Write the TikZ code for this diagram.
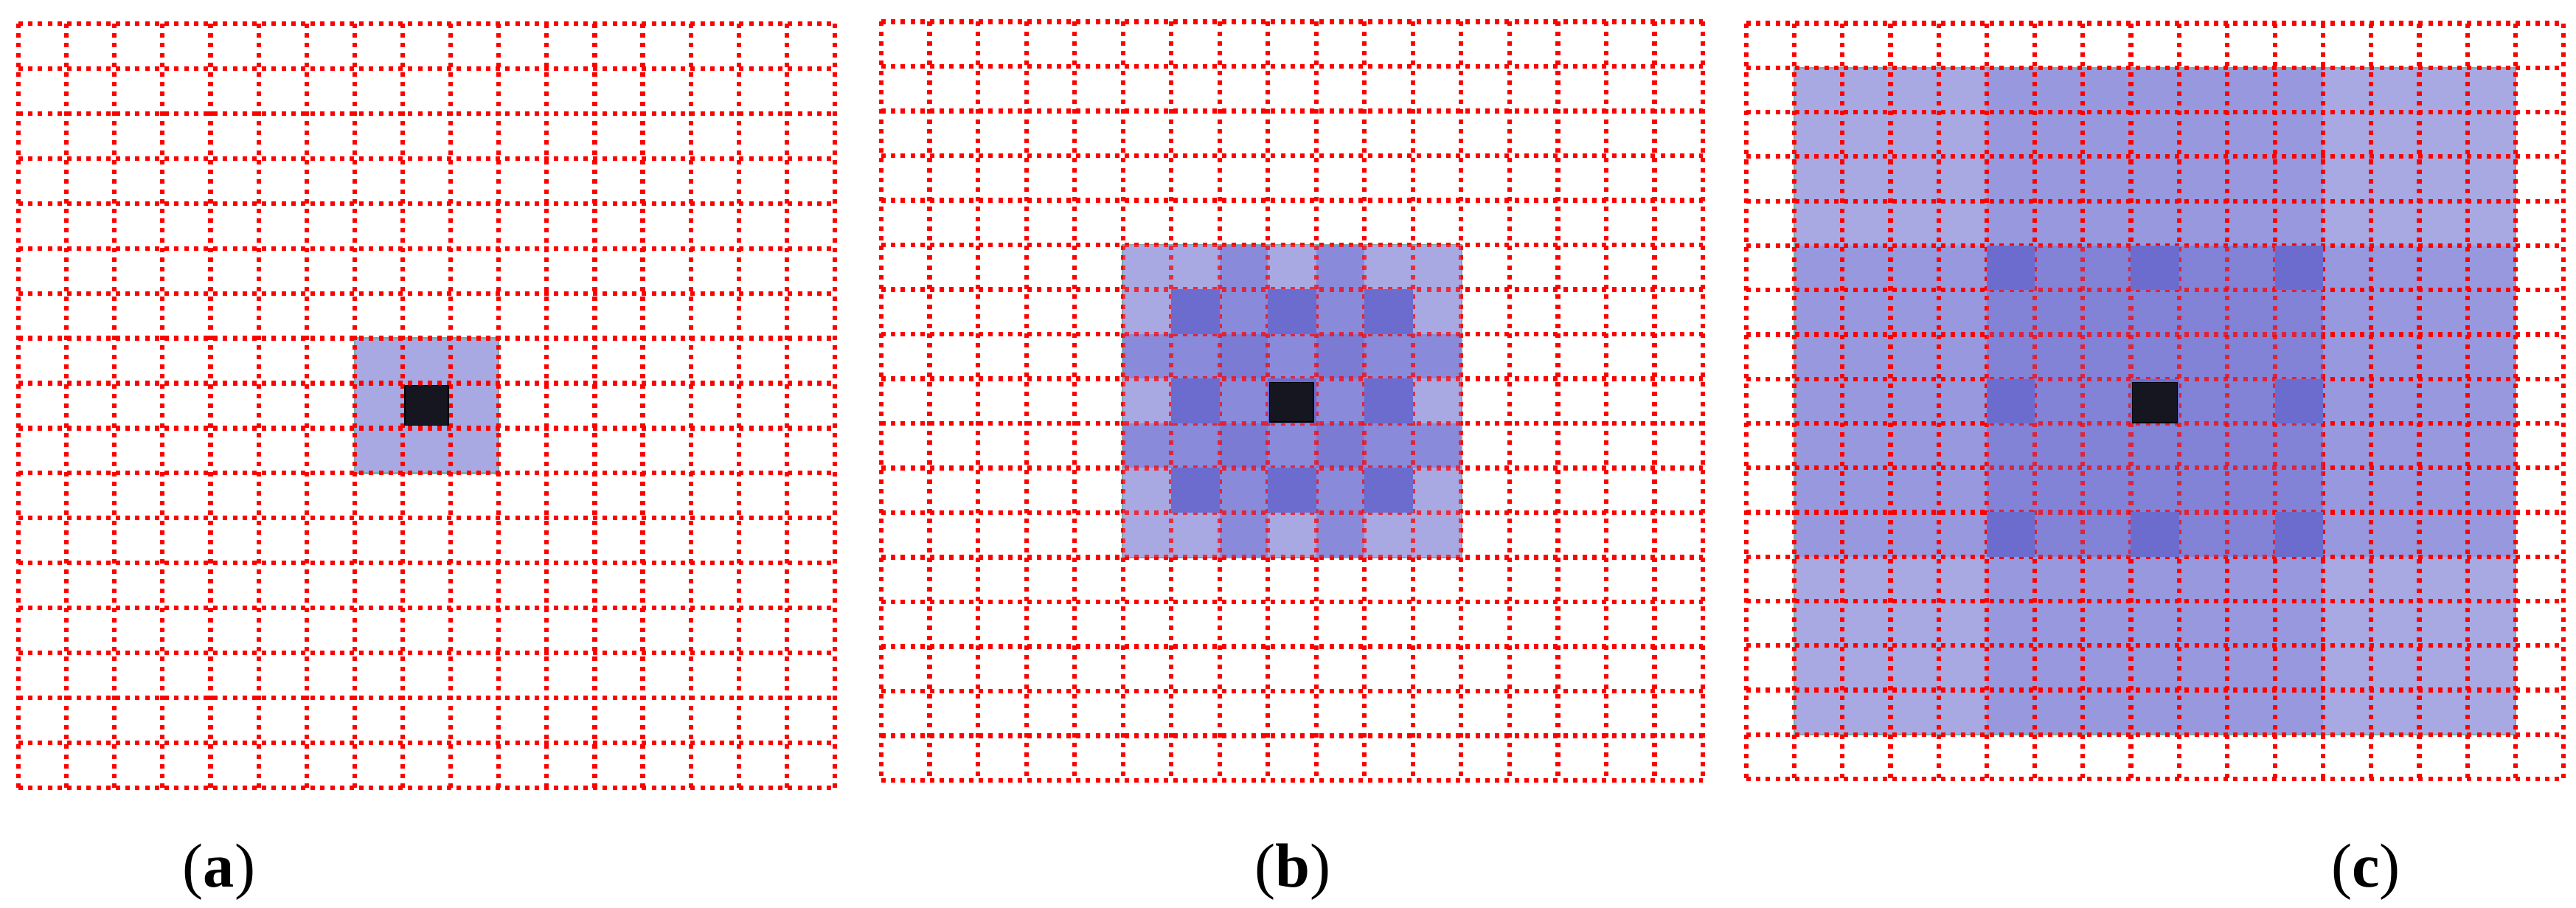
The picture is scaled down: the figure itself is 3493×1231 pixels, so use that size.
\documentclass[tikz,border=0pt]{standalone}
\usepackage{fontspec}
\setmainfont{Liberation Serif}
\definecolor{gridred}{RGB}{255,0,0}
\definecolor{cL}{RGB}{168,168,226}
\definecolor{cM}{RGB}{138,138,218}
\definecolor{cMD}{RGB}{123,123,212}
\definecolor{cD}{RGB}{108,108,206}
\definecolor{cA}{RGB}{152,152,222}
\definecolor{cB}{RGB}{130,130,214}
\definecolor{cK}{RGB}{22,22,32}
\definecolor{cEdge}{RGB}{125,170,170}
\tikzset{
  gridline/.style={draw=gridred, line width=0.62mm, dash pattern=on 0.6mm off 0.72mm},
  blockedge/.style={draw=cEdge, line width=0.25mm},
  blackcell/.style={fill=cK, draw=black, line width=0.15mm},
  caption/.style={font=\fontsize{24}{28}\selectfont, anchor=base, inner sep=0pt}
}
% #1 x0, #2 y0, #3 cell width, #4 cell height, #5 opacity
\newcommand{\redgrid}[5]{%
  \foreach \i in {0,...,17}{%
    \draw[gridline, draw opacity=#5] ({#1+\i*#3},#2) -- ({#1+\i*#3},{#2+17*#4});
    \draw[gridline, draw opacity=#5] (#1,{#2+\i*#4}) -- ({#1+17*#3},{#2+\i*#4});
  }}
% cell rectangle: #1 x0, #2 y0, #3 cw, #4 ch, #5 col, #6 row
\newcommand{\cellrect}[6]{({#1+(#5)*#3},{#2+(#6)*#4}) rectangle ({#1+(#5+1)*#3},{#2+(#6+1)*#4})}
% block rectangle from col #5,row #6 to col #7,row #8 (inclusive)
\newcommand{\blockrect}[8]{({#1+(#5)*#3},{#2+(#6)*#4}) rectangle ({#1+(#7+1)*#3},{#2+(#8+1)*#4})}

\begin{document}
\begin{tikzpicture}[x=0.01cm,y=-0.01cm]
\useasboundingbox (0,0) rectangle (3493,1231);
\fill[white] (0,0) rectangle (3493,1231);

% ---------------- (a) ----------------
\def\xa{25}\def\ya{32}\def\wa{65.12}\def\ha{60.94}
\fill[cL] \blockrect{\xa}{\ya}{\wa}{\ha}{7}{7}{9}{9};
\draw[blockedge] \blockrect{\xa}{\ya}{\wa}{\ha}{7}{7}{9}{9};
\redgrid{\xa}{\ya}{\wa}{\ha}{1}
\fill[blackcell] ({\xa+8*\wa+3},{\ya+8*\ha+3}) rectangle ({\xa+9*\wa-3},{\ya+9*\ha-4});
\node[caption] (labA) at (297,1202) {(\textbf{a})};

% ---------------- (b) ----------------
\def\xb{1195}\def\yb{29.5}\def\wb{65.53}\def\hb{60.5}
\newcommand{\fillbcells}{%
  \foreach \dx in {-3,...,3}{%
    \foreach \dy in {-3,...,3}{%
      \pgfmathtruncatemacro\ax{abs(\dx)}%
      \pgfmathtruncatemacro\ay{abs(\dy)}%
      \def\cc{cL}%
      \ifnum\ax=1 \def\cc{cM}\fi
      \ifnum\ay=1 \def\cc{cM}\fi
      \ifnum\ax=1 \ifnum\ay=1 \def\cc{cMD}\fi\fi
      \fill[\cc] \cellrect{\xb}{\yb}{\wb}{\hb}{8+\dx}{8+\dy};
    }}}
\fillbcells
\draw[blockedge] \blockrect{\xb}{\yb}{\wb}{\hb}{5}{5}{11}{11};
\redgrid{\xb}{\yb}{\wb}{\hb}{1}
\fillbcells
\begin{scope}
  \clip \blockrect{\xb}{\yb}{\wb}{\hb}{5}{5}{11}{11};
  \redgrid{\xb}{\yb}{\wb}{\hb}{0.72}
\end{scope}
\foreach \dx in {-2,0,2}{\foreach \dy in {-2,0,2}{%
  \fill[cD] \cellrect{\xb}{\yb}{\wb}{\hb}{8+\dx}{8+\dy};}}
\fill[blackcell] ({\xb+8*\wb+2},{\yb+8*\hb+5}) rectangle ({\xb+9*\wb-4},{\yb+9*\hb-2});
\node[caption] (labB) at (1753,1202) {(\textbf{b})};

% ---------------- (c) ----------------
\def\xc{2368}\def\yc{31.6}\def\wc{65.18}\def\hc{60.26}
\fill[cL] \blockrect{\xc}{\yc}{\wc}{\hc}{1}{1}{15}{15};
\fill[cA] \blockrect{\xc}{\yc}{\wc}{\hc}{5}{1}{11}{15};
\fill[cA] \blockrect{\xc}{\yc}{\wc}{\hc}{1}{5}{15}{11};
\fill[cB] \blockrect{\xc}{\yc}{\wc}{\hc}{5}{5}{11}{11};
\draw[blockedge] \blockrect{\xc}{\yc}{\wc}{\hc}{1}{1}{15}{15};
\redgrid{\xc}{\yc}{\wc}{\hc}{1}
\fill[cB] \blockrect{\xc}{\yc}{\wc}{\hc}{5}{5}{11}{11};
\begin{scope}
  \clip \blockrect{\xc}{\yc}{\wc}{\hc}{5}{5}{11}{11};
  \redgrid{\xc}{\yc}{\wc}{\hc}{0.72}
\end{scope}
\foreach \dx in {-3,0,3}{\foreach \dy in {-3,0,3}{%
  \fill[cD] \cellrect{\xc}{\yc}{\wc}{\hc}{8+\dx}{8+\dy};}}
\fill[blackcell] ({\xc+8*\wc+2},{\yc+8*\hc+5}) rectangle ({\xc+9*\wc-2},{\yc+9*\hc-1});
\node[caption] (labC) at (3208,1202) {(\textbf{c})};
\end{tikzpicture}
\end{document}
